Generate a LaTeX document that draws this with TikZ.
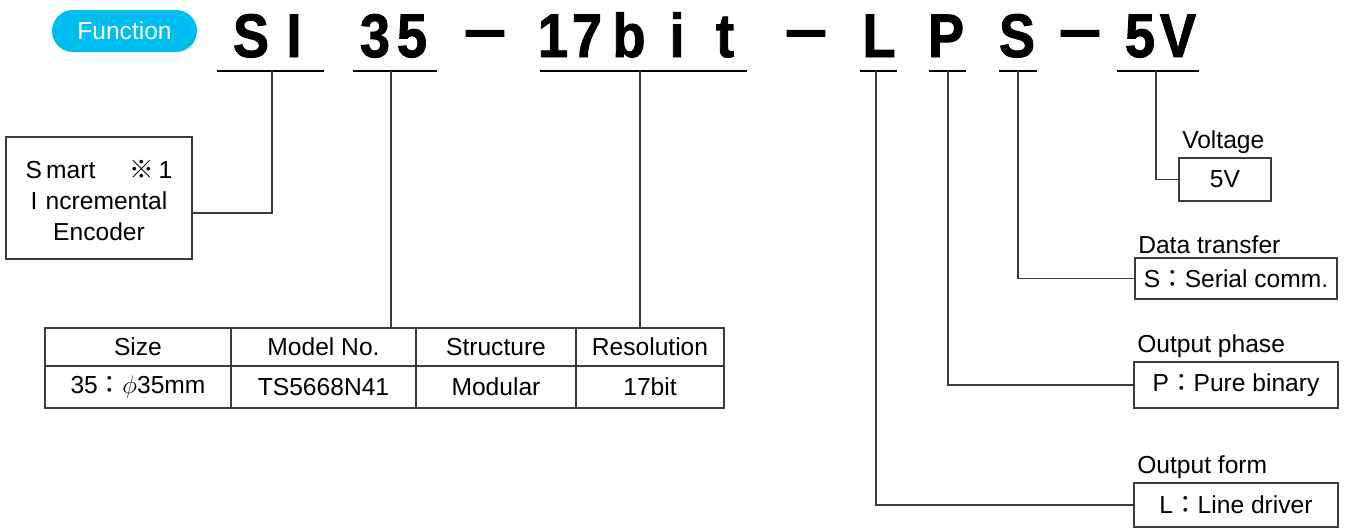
\documentclass[tikz,border=0pt]{standalone}
\usepackage{fontspec}
\setmainfont{Liberation Sans}
\newfontfamily\cjk{Noto Sans CJK JP}
\newfontfamily\titlefont{Liberation Sans}[FakeStretch=0.88,FakeBold=1.5]
\usetikzlibrary{positioning,calc}
\definecolor{pillblue}{RGB}{0,189,240}
\definecolor{leadgray}{RGB}{60,60,60}
\newcommand\titledash{\raisebox{4pt}{\scalebox{1.4}[1]{–}}}

\begin{document}
\begin{tikzpicture}[x=0.02cm,y=-0.02cm,
    every node/.style={font=\fontsize{14}{17.6}\selectfont},
    ttl/.style={anchor=base,inner sep=0pt,font=\titlefont\bfseries\fontsize{35}{40}\selectfont},
    box/.style={draw=leadgray,line width=0.7pt,inner sep=0pt},
    cell/.style={draw=leadgray,line width=0.7pt,inner sep=0pt,outer sep=0pt},
    lbl/.style={anchor=south west,inner sep=2pt},
    uline/.style={line width=1.2pt},
    lead/.style={draw=leadgray,line width=0.6pt}]
  \useasboundingbox (0,0) rectangle (1348,529);

  % badge
  \node[fill=pillblue,text=white,rounded corners=0.42cm,
        minimum width=145*0.02cm,minimum height=42*0.02cm] (func) at (124.5,31) {Function};

  % model code
  \path
    (251,57) node[ttl] (tS) {S}
    (294,57) node[ttl] (tI) {I}
    (375,57) node[ttl] (t3) {3}
    (412,57) node[ttl] (t5) {5}
    (485,57) node[ttl] (d1) {\titledash}
    (553,57) node[ttl] (t1) {1}
    (587,57) node[ttl] (t7) {7}
    (629,57) node[ttl] (tb) {b}
    (677,57) node[ttl] (ti) {i}
    (725,57) node[ttl] (tt) {t}
    (806,57) node[ttl] (d2) {\titledash}
    (879,57) node[ttl] (tL) {L}
    (946,57) node[ttl] (tP) {P}
    (1017,57) node[ttl] (tS2) {S}
    (1080,57) node[ttl] (d3) {\titledash}
    (1140,57) node[ttl] (t5v) {5}
    (1178,57) node[ttl] (tV) {V};
  \foreach \a/\b in {217/324,353/437,540/747,860/897,929/966,999/1037,1117/1199}
    \draw[uline] (\a,71) -- (\b,71);
  \coordinate (cSI) at (272,71);
  \coordinate (c35) at (391,71);
  \coordinate (c17) at (640,71);
  \coordinate (cL) at (876,71);
  \coordinate (cP) at (948,71);
  \coordinate (cS) at (1018,71);
  \coordinate (cV) at (1156,71);

  % left box
  \node[box,minimum width=186*0.02cm,minimum height=122*0.02cm,align=center] (enc) at (99,198)
    {\raisebox{0pt}[13pt]{}S\,mart\hspace{1.4em}{\cjk ※}\,1\\I\,\,ncremental\\Encoder};

  % table
  \node[cell,minimum width=186*0.02cm,minimum height=38*0.02cm] (hSize) at (138,347) {Size};
  \node[cell,minimum width=185*0.02cm,minimum height=38*0.02cm,right=0pt of hSize] (hModel) {Model No.};
  \node[cell,minimum width=160*0.02cm,minimum height=38*0.02cm,right=0pt of hModel] (hStruct) {Structure};
  \node[cell,minimum width=148*0.02cm,minimum height=38*0.02cm,right=0pt of hStruct] (hRes) {Resolution};
  \node[cell,minimum width=186*0.02cm,minimum height=42*0.02cm,below=0pt of hSize] (vSize) {35{\cjk ：}$\phi$35mm};
  \node[cell,minimum width=185*0.02cm,minimum height=42*0.02cm,below=0pt of hModel] (vModel) {TS5668N41};
  \node[cell,minimum width=160*0.02cm,minimum height=42*0.02cm,below=0pt of hStruct] (vStruct) {Modular};
  \node[cell,minimum width=148*0.02cm,minimum height=42*0.02cm,below=0pt of hRes] (vRes) {17bit};

  % right boxes
  \node[box,minimum width=92*0.02cm,minimum height=43*0.02cm] (volt) at (1225,179.5) {5V};
  \node[lbl] (voltlbl) at (volt.north west) {Voltage};
  \node[box,minimum width=202*0.02cm,minimum height=41*0.02cm] (ser) at (1236,278.5) {S{\cjk ：}Serial comm.};
  \node[lbl] (serlbl) at (ser.north west) {Data transfer};
  \node[box,minimum width=204*0.02cm,minimum height=46*0.02cm] (pure) at (1236,385) {P{\cjk ：}Pure binary};
  \node[lbl] (purelbl) at (pure.north west) {Output phase};
  \node[box,minimum width=204*0.02cm,minimum height=44*0.02cm] (line) at (1236,505) {L{\cjk ：}Line driver};
  \node[lbl] (linelbl) at (line.north west) {Output form};

  % leads
  \draw[lead] (cSI) |- ($(enc.east)+(0,15)$);
  \draw[lead] (c35) -- (c35 |- hModel.north);
  \draw[lead] (c17) -- (c17 |- hRes.north);
  \draw[lead] (cL) |- (line.west);
  \draw[lead] (cP) |- (pure.west);
  \draw[lead] (cS) |- (ser.west);
  \draw[lead] (cV) |- (volt.west);
\end{tikzpicture}
\end{document}
